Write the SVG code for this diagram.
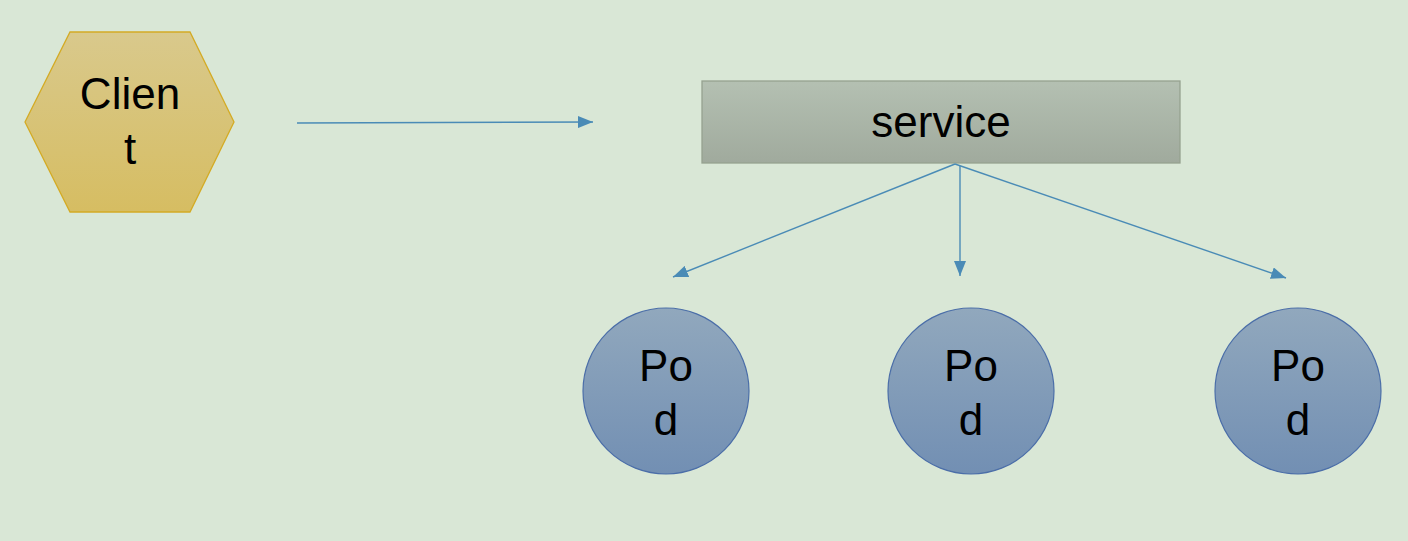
<svg xmlns="http://www.w3.org/2000/svg" width="1408" height="541" viewBox="0 0 1408 541">
  <defs>
    <linearGradient id="gHex" x1="0" y1="0" x2="0" y2="1">
      <stop offset="0" stop-color="#d9c98c"/>
      <stop offset="1" stop-color="#d6bd62"/>
    </linearGradient>
    <linearGradient id="gSvc" x1="0" y1="0" x2="0" y2="1">
      <stop offset="0" stop-color="#b4c0b2"/>
      <stop offset="1" stop-color="#a0aa9d"/>
    </linearGradient>
    <linearGradient id="gPod" x1="0" y1="0" x2="0" y2="1">
      <stop offset="0" stop-color="#91a8bd"/>
      <stop offset="1" stop-color="#728fb3"/>
    </linearGradient>
    <marker id="arrow" viewBox="0 0 15 12" refX="15" refY="6" markerWidth="15" markerHeight="12" markerUnits="userSpaceOnUse" orient="auto">
      <path d="M0,0 L15,6 L0,12 Z" fill="#4a8bb6"/>
    </marker>
    <style>
      .label { font-family: "Liberation Sans", Arial, sans-serif; font-size: 44px; fill: #000; text-anchor: middle; }
      .conn { stroke: #4a8bb6; stroke-width: 1.4; fill: none; marker-end: url(#arrow); }
      .pod circle { fill: url(#gPod); stroke: #4b6ea8; stroke-width: 1.2; }
    </style>
  </defs>

  <rect width="1408" height="541" fill="#d9e7d6"/>

  <g id="client">
    <polygon points="25,122 70,32 190,32 234,122 190,212 70,212" fill="url(#gHex)" stroke="#d4ab24" stroke-width="1.3"/>
    <text class="label" x="130" y="109">Clien</text>
    <text class="label" x="130" y="164">t</text>
  </g>

  <g id="service">
    <rect x="702" y="81" width="478" height="82" fill="url(#gSvc)" stroke="#96a190" stroke-width="1.3"/>
    <text class="label" x="941" y="137">service</text>
  </g>

  <g id="pod1" class="pod">
    <circle cx="666" cy="391" r="83"/>
    <text class="label" x="666" y="381">Po</text>
    <text class="label" x="666" y="435">d</text>
  </g>
  <g id="pod2" class="pod">
    <circle cx="971" cy="391" r="83"/>
    <text class="label" x="971" y="381">Po</text>
    <text class="label" x="971" y="435">d</text>
  </g>
  <g id="pod3" class="pod">
    <circle cx="1298" cy="391" r="83"/>
    <text class="label" x="1298" y="381">Po</text>
    <text class="label" x="1298" y="435">d</text>
  </g>

  <g id="connectors">
    <line class="conn" x1="297" y1="123" x2="593" y2="122"/>
    <line class="conn" x1="955" y1="164" x2="673" y2="277"/>
    <line class="conn" x1="960" y1="166" x2="960" y2="276"/>
    <line class="conn" x1="955" y1="164" x2="1286" y2="278"/>
  </g>
</svg>
